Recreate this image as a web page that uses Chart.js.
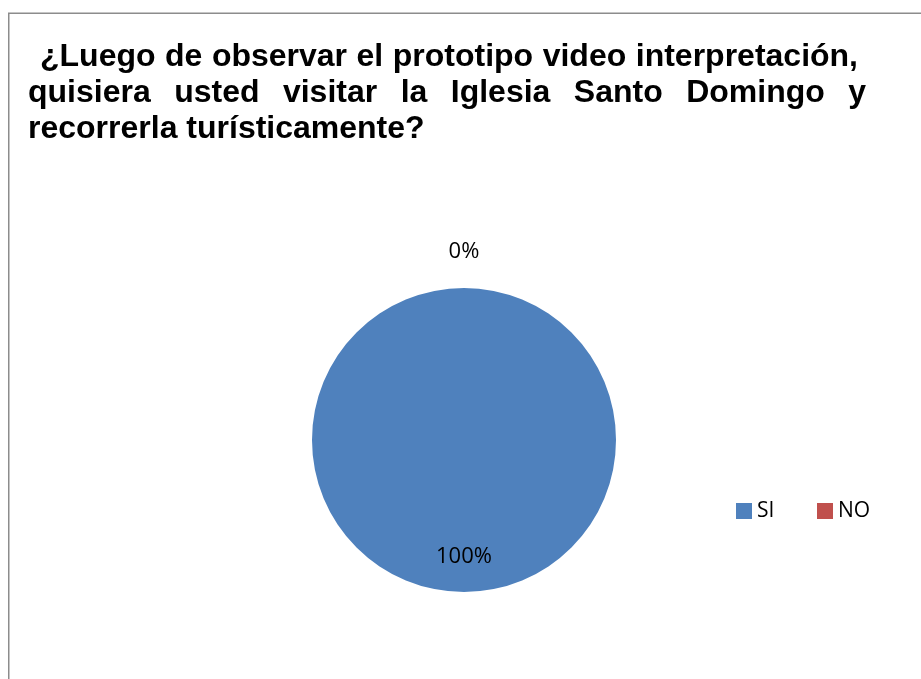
<!DOCTYPE html>
<html lang="es">
<head>
<meta charset="utf-8">
<title>Visita a la Iglesia Santo Domingo</title>
<script src="https://cdn.jsdelivr.net/npm/chart.js@4.4.1/dist/chart.umd.min.js"></script>
<style>
  html, body { margin: 0; padding: 0; background: #ffffff; }
  #wrap { width: 921px; height: 679px; position: relative; }
</style>
</head>
<body>
<div id="wrap"><canvas id="chart" width="921" height="679"></canvas></div>
<script>
// Respuestas a la encuesta (porcentaje)
const categories = ['SI', 'NO'];
const values = [100, 0];
const sliceColors = ['#4F81BD', '#C0504D'];
const titleLines = [
  '¿Luego de observar el prototipo video interpretación,',
  'quisiera usted visitar la Iglesia Santo Domingo y',
  'recorrerla turísticamente?'
];

const TITLE_FONT = 'bold 32px "Liberation Sans"';
const LABEL_FONT = '22px "Open Sans"';

const total = values.reduce((a, b) => a + b, 0);

// Marco gris del gráfico
const framePlugin = {
  id: 'frame',
  beforeDraw(chart) {
    const ctx = chart.ctx;
    ctx.save();
    ctx.fillStyle = '#ffffff';
    ctx.fillRect(0, 0, chart.width, chart.height);
    ctx.strokeStyle = '#8c8c8c';
    ctx.lineWidth = 1.5;
    ctx.beginPath();
    ctx.moveTo(8.75, chart.height + 5);
    ctx.lineTo(8.75, 13.25);
    ctx.lineTo(chart.width + 5, 13.25);
    ctx.stroke();
    ctx.restore();
  }
};

// Dibuja una línea con las palabras repartidas entre left y right
function justifyLine(ctx, text, left, right, y) {
  const words = text.split(' ');
  const wordsWidth = words.reduce((s, w) => s + ctx.measureText(w).width, 0);
  const gap = (right - left - wordsWidth) / (words.length - 1);
  let x = left;
  words.forEach(w => {
    ctx.fillText(w, x, y);
    x += ctx.measureText(w).width + gap;
  });
}

// Título en negrita, párrafo justificado
const titlePlugin = {
  id: 'justifiedTitle',
  afterDraw(chart) {
    const ctx = chart.ctx;
    ctx.save();
    ctx.fillStyle = '#000000';
    ctx.font = TITLE_FONT + ', Arial, sans-serif';
    ctx.textBaseline = 'alphabetic';
    ctx.textAlign = 'left';
    const left = 28, right = 866;
    const baselines = [66, 102, 138];
    justifyLine(ctx, titleLines[0], 40, 858, baselines[0]);
    justifyLine(ctx, titleLines[1], left, right, baselines[1]);
    ctx.fillText(titleLines[2], left, baselines[2]);
    ctx.restore();
  }
};

// Etiquetas de porcentaje y leyenda horizontal
const labelPlugin = {
  id: 'pctLabels',
  afterDatasetsDraw(chart) {
    const ctx = chart.ctx;
    const meta = chart.getDatasetMeta(0);
    ctx.save();
    ctx.font = LABEL_FONT + ', "Noto Sans", sans-serif';
    ctx.fillStyle = '#000000';
    ctx.textAlign = 'center';
    ctx.textBaseline = 'middle';
    meta.data.forEach((arc, i) => {
      const p = arc.getProps(['x', 'y', 'startAngle', 'endAngle', 'outerRadius'], true);
      const mid = (p.startAngle + p.endAngle) / 2;
      const pct = Math.round(values[i] / total * 100);
      const r = values[i] === 0 ? p.outerRadius * 1.24 : p.outerRadius * 0.77;
      ctx.fillText(pct + '%', p.x + Math.cos(mid) * r, p.y + Math.sin(mid) * r);
    });

    // leyenda
    const legendX = [736, 817];
    const legendY = 511;
    ctx.font = '21px "Open Sans", "Noto Sans", sans-serif';
    ctx.textAlign = 'left';
    categories.forEach((c, i) => {
      ctx.fillStyle = sliceColors[i];
      ctx.fillRect(legendX[i], legendY - 8, 16, 16);
      ctx.fillStyle = '#000000';
      ctx.fillText(c, legendX[i] + 21, legendY);
    });
    ctx.restore();
  }
};

function build() {
  new Chart(document.getElementById('chart'), {
    type: 'pie',
    data: {
      labels: categories,
      datasets: [{
        data: values,
        backgroundColor: sliceColors,
        borderWidth: 0
      }]
    },
    options: {
      responsive: false,
      animation: false,
      layout: { padding: { left: 312, right: 305, top: 288, bottom: 87 } },
      plugins: {
        legend: { display: false },
        tooltip: { enabled: false },
        title: { display: false }
      }
    },
    plugins: [framePlugin, titlePlugin, labelPlugin]
  });
}

Promise.all([
  document.fonts.load(TITLE_FONT, 'Ab¿í'),
  document.fonts.load(LABEL_FONT, '0%SINO')
]).then(build, build);
</script>
</body>
</html>
